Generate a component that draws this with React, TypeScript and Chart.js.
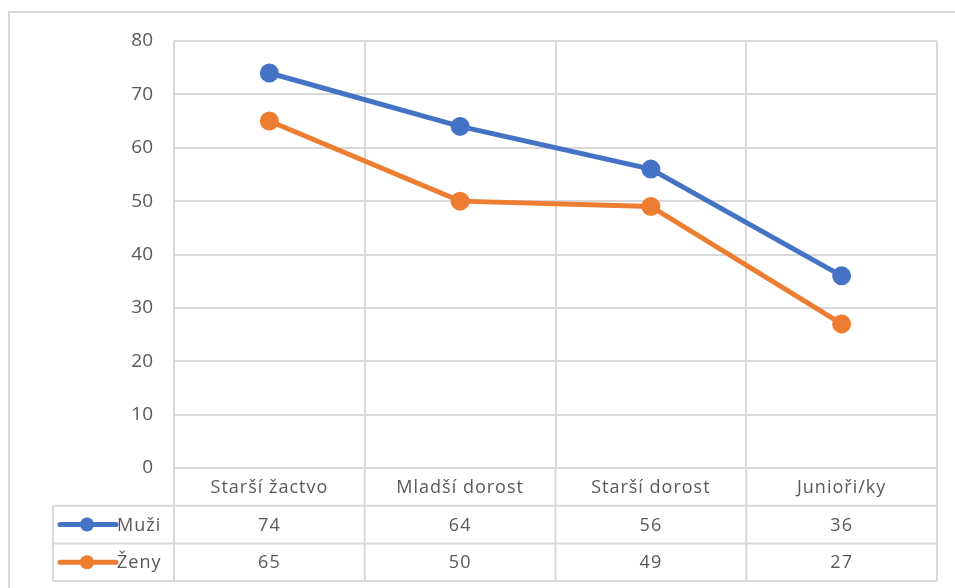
import React, { useEffect, useRef } from "react";
import { Chart, registerables } from "chart.js";

Chart.register(...registerables);

const categories = ["Starší žactvo", "Mladší dorost", "Starší dorost", "Junioři/ky"];
const muzi = [74, 64, 56, 36];
const zeny = [65, 50, 49, 27];
const seriesNames = ["Muži", "Ženy"];

const BLUE = "#4472C4";
const ORANGE = "#ED7D31";
const GRID = "#D9D9D9";
const TEXT = "#595959";
const FONT = "'Open Sans', 'Noto Sans', sans-serif";

export default function App() {
  const ref = useRef<HTMLCanvasElement | null>(null);

  useEffect(() => {
    if (!ref.current) return;
    const tablePlugin = {
      id: "dataTable",
      afterDraw(chart: any) {
        const ctx = chart.ctx as any;
        const x = chart.scales.x;
        const area = chart.chartArea;
        const rowH = 37.7;
        const headTop = area.bottom;
        const r1 = headTop + rowH;
        const r2 = r1 + rowH;
        const r3 = r2 + rowH;
        const tableLeft = 53;
        const n = categories.length;
        const colW = (area.right - area.left) / n;
        ctx.save();
        ctx.strokeStyle = GRID;
        ctx.lineWidth = 2;
        ctx.strokeRect(9, 12, 960, 600);
        ctx.beginPath();
        ctx.moveTo(area.left, headTop);
        ctx.lineTo(area.right, headTop);
        [r1, r2, r3].forEach((yy) => {
          ctx.moveTo(tableLeft, yy);
          ctx.lineTo(area.right, yy);
        });
        ctx.moveTo(tableLeft, r1);
        ctx.lineTo(tableLeft, r3);
        for (let i = 0; i <= n; i++) {
          const xx = area.left + colW * i;
          ctx.moveTo(xx, headTop);
          ctx.lineTo(xx, r3);
        }
        ctx.stroke();

        ctx.fillStyle = TEXT;
        ctx.font = `18px ${FONT}`;
        ctx.letterSpacing = "1px";
        ctx.textAlign = "center";
        ctx.textBaseline = "middle";
        categories.forEach((c, i) => {
          const cx = x.getPixelForValue(i);
          ctx.fillText(c, cx, (headTop + r1) / 2 + 1);
          ctx.fillText(String(muzi[i]), cx, (r1 + r2) / 2 + 1);
          ctx.fillText(String(zeny[i]), cx, (r2 + r3) / 2 + 1);
        });
        const keys = [
          { name: seriesNames[0], color: BLUE, y: (r1 + r2) / 2 },
          { name: seriesNames[1], color: ORANGE, y: (r2 + r3) / 2 },
        ];
        keys.forEach((k) => {
          ctx.strokeStyle = k.color;
          ctx.lineWidth = 5;
          ctx.lineCap = "round";
          ctx.beginPath();
          ctx.moveTo(60, k.y);
          ctx.lineTo(116, k.y);
          ctx.stroke();
          ctx.fillStyle = k.color;
          ctx.beginPath();
          ctx.arc(87, k.y, 7, 0, Math.PI * 2);
          ctx.fill();
          ctx.fillStyle = TEXT;
          ctx.textAlign = "left";
          ctx.fillText(k.name, 117, k.y + 1);
        });
        ctx.restore();
      },
    };

    const chart = new Chart(ref.current, {
      type: "line",
      data: {
        labels: categories,
        datasets: [
          {
            label: seriesNames[0],
            data: muzi,
            borderColor: BLUE,
            backgroundColor: BLUE,
            borderWidth: 5,
            pointRadius: 7,
            pointBackgroundColor: BLUE,
            pointBorderColor: BLUE,
            tension: 0,
          },
          {
            label: seriesNames[1],
            data: zeny,
            borderColor: ORANGE,
            backgroundColor: ORANGE,
            borderWidth: 5,
            pointRadius: 7,
            pointBackgroundColor: ORANGE,
            pointBorderColor: ORANGE,
            tension: 0,
          },
        ],
      },
      options: {
        responsive: false,
        animation: false,
        layout: { padding: { left: 0, top: 41, right: 18, bottom: 0 } },
        plugins: { legend: { display: false }, tooltip: { enabled: false } },
        scales: {
          x: {
            offset: true,
            grid: { offset: true, color: GRID, lineWidth: 2, drawTicks: false },
            border: { display: false },
            ticks: { display: false },
            afterFit: (s: any) => {
              s.height = 120;
            },
          },
          y: {
            min: 0,
            max: 80,
            ticks: {
              stepSize: 10,
              color: TEXT,
              font: { family: FONT, size: 19 },
              padding: 21,
            },
            grid: { color: GRID, lineWidth: 2, drawTicks: false },
            border: { display: false },
            afterFit: (s: any) => {
              s.width = 174;
            },
          },
        },
      },
      plugins: [tablePlugin],
    });
    return () => chart.destroy();
  }, []);

  return (
    <div style={{ position: "fixed", left: 0, top: 0, width: 955, height: 588, background: "#fff" }}>
      <canvas ref={ref} width={955} height={588} style={{ display: "block" }} />
    </div>
  );
}
